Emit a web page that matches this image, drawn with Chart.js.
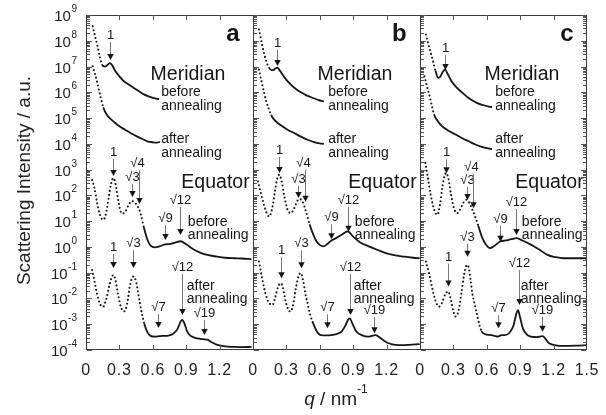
<!DOCTYPE html>
<html><head><meta charset="utf-8">
<script src="https://cdn.jsdelivr.net/npm/chart.js@4"></script>
<style>html,body{margin:0;padding:0;background:#fff}canvas{display:block}</style>
</head><body>
<canvas id="c" width="606" height="415"></canvas>
<script>
// ---- tick labels / categories ----
const panelLetters = ['a', 'b', 'c'];
const xTickValues = [0, 0.3, 0.6, 0.9, 1.2];
const xTickLabels = ['0', '0.3', '0.6', '0.9', '1.2'];
const xLastTickLabel = '1.5';
const yExponents = [-4, -3, -2, -1, 0, 1, 2, 3, 4, 5, 6, 7, 8, 9];
const PANEL_SPAN = 1.5;

// ---- series values: [q (nm^-1), log10(intensity)] ----
const aMerBefore = [[0.06,8.56],[0.08,8.2],[0.1,7.85],[0.126,7.34],[0.145,7.06],[0.17,7.0],[0.19,7.05],[0.215,7.13],[0.235,7.05],[0.26,6.85],[0.3,6.62],[0.34,6.43],[0.39,6.28],[0.43,6.17],[0.48,6.03],[0.52,5.92],[0.57,5.83],[0.61,5.77],[0.65,5.74]];
const aMerAfter = [[0.06,7.01],[0.08,6.72],[0.1,6.4],[0.126,5.91],[0.157,5.39],[0.187,5.13],[0.22,4.97],[0.26,4.82],[0.3,4.68],[0.35,4.55],[0.4,4.42],[0.457,4.29],[0.5,4.2],[0.55,4.1],[0.6,4.06],[0.64,4.05],[0.66,4.07]];
const aEqBefore = [[0.055,2.6],[0.075,2.3],[0.1,1.7],[0.125,1.25],[0.155,1.05],[0.18,1.3],[0.205,1.95],[0.225,2.45],[0.245,2.67],[0.265,2.45],[0.29,1.8],[0.32,1.3],[0.35,1.35],[0.38,1.6],[0.41,1.78],[0.43,1.75],[0.46,1.6],[0.49,1.3],[0.52,0.75],[0.55,0.3],[0.58,0.05],[0.62,-0.02],[0.66,0.02],[0.71,0.1],[0.76,0.12],[0.8,0.17],[0.85,0.22],[0.9,0.1],[0.96,-0.08],[1.03,-0.23],[1.1,-0.32],[1.18,-0.38],[1.25,-0.42],[1.33,-0.44],[1.4,-0.45],[1.48,-0.47]];
const aEqAfter = [[0.055,-0.9],[0.075,-1.3],[0.1,-1.85],[0.13,-2.25],[0.155,-2.32],[0.18,-2.05],[0.21,-1.5],[0.23,-1.2],[0.246,-1.09],[0.265,-1.3],[0.29,-1.9],[0.315,-2.35],[0.343,-2.5],[0.37,-2.2],[0.395,-1.5],[0.425,-1.15],[0.45,-1.35],[0.475,-1.95],[0.5,-2.55],[0.525,-3.0],[0.55,-3.3],[0.58,-3.45],[0.62,-3.48],[0.66,-3.46],[0.7,-3.45],[0.74,-3.44],[0.78,-3.38],[0.82,-3.2],[0.85,-2.9],[0.865,-2.83],[0.885,-2.98],[0.91,-3.3],[0.95,-3.48],[1.0,-3.55],[1.05,-3.58],[1.09,-3.6],[1.13,-3.7],[1.18,-3.8],[1.25,-3.86],[1.33,-3.88],[1.4,-3.89],[1.48,-3.88]];

const bMerBefore = [[0.053,8.44],[0.07,8.1],[0.084,7.79],[0.1,7.5],[0.114,7.27],[0.13,7.07],[0.144,6.95],[0.165,6.86],[0.18,6.86],[0.2,6.92],[0.218,6.96],[0.24,6.85],[0.265,6.69],[0.3,6.48],[0.34,6.3],[0.385,6.13],[0.43,6.0],[0.48,5.88],[0.54,5.78],[0.59,5.7],[0.63,5.65]];
const bMerAfter = [[0.053,6.88],[0.075,6.45],[0.1,5.98],[0.122,5.6],[0.144,5.33],[0.165,5.1],[0.19,4.94],[0.225,4.8],[0.265,4.68],[0.31,4.55],[0.37,4.42],[0.43,4.28],[0.49,4.16],[0.55,4.07],[0.6,4.02],[0.63,4.0]];
const bEqBefore = [[0.044,2.54],[0.07,2.1],[0.1,1.6],[0.125,1.3],[0.144,1.18],[0.17,1.45],[0.195,2.1],[0.215,2.6],[0.235,2.8],[0.255,2.6],[0.28,2.0],[0.31,1.45],[0.34,1.31],[0.37,1.5],[0.4,1.8],[0.42,1.86],[0.445,1.75],[0.477,1.35],[0.51,0.85],[0.54,0.5],[0.57,0.22],[0.6,0.08],[0.63,0.02],[0.67,0.12],[0.705,0.25],[0.75,0.35],[0.8,0.48],[0.85,0.6],[0.9,0.4],[0.96,0.18],[1.04,0.02],[1.12,-0.12],[1.2,-0.25],[1.28,-0.33],[1.36,-0.38],[1.44,-0.42],[1.49,-0.44]];
const bEqAfter = [[0.053,-0.57],[0.075,-1.05],[0.1,-1.6],[0.13,-2.05],[0.155,-2.22],[0.175,-2.25],[0.2,-1.95],[0.225,-1.55],[0.25,-1.41],[0.27,-1.6],[0.295,-2.15],[0.32,-2.45],[0.335,-2.51],[0.36,-2.25],[0.385,-1.6],[0.41,-1.12],[0.43,-1.02],[0.45,-1.3],[0.47,-1.8],[0.49,-2.19],[0.515,-2.65],[0.54,-2.96],[0.57,-3.25],[0.61,-3.42],[0.66,-3.43],[0.7,-3.42],[0.75,-3.38],[0.795,-3.29],[0.83,-3.05],[0.855,-2.82],[0.87,-2.77],[0.89,-2.95],[0.93,-3.29],[0.98,-3.43],[1.04,-3.48],[1.1,-3.42],[1.15,-3.55],[1.19,-3.68],[1.25,-3.78],[1.31,-3.81],[1.4,-3.8],[1.49,-3.77]];

const cMerBefore = [[0.053,8.24],[0.075,7.88],[0.097,7.53],[0.12,7.15],[0.14,6.82],[0.165,6.56],[0.185,6.62],[0.205,6.8],[0.225,6.88],[0.25,6.7],[0.275,6.49],[0.31,6.28],[0.35,6.1],[0.39,5.95],[0.437,5.78],[0.48,5.66],[0.52,5.57],[0.57,5.5],[0.61,5.45],[0.64,5.43]];
const cMerAfter = [[0.04,6.62],[0.06,6.27],[0.083,5.91],[0.105,5.5],[0.127,5.13],[0.16,4.88],[0.2,4.68],[0.26,4.5],[0.32,4.36],[0.38,4.22],[0.437,4.1],[0.49,3.99],[0.54,3.9],[0.59,3.84],[0.64,3.8]];
const cEqBefore = [[0.048,3.26],[0.07,2.7],[0.095,2.05],[0.12,1.55],[0.14,1.3],[0.157,1.25],[0.18,1.65],[0.2,2.3],[0.22,2.75],[0.236,2.87],[0.255,2.65],[0.28,2.0],[0.305,1.5],[0.334,1.31],[0.36,1.45],[0.39,1.72],[0.42,1.83],[0.445,1.7],[0.47,1.45],[0.495,1.18],[0.525,0.8],[0.555,0.4],[0.59,0.1],[0.63,-0.05],[0.67,0.05],[0.72,0.21],[0.77,0.25],[0.82,0.3],[0.865,0.34],[0.92,0.25],[1.0,0.08],[1.07,-0.1],[1.145,-0.31],[1.22,-0.4],[1.29,-0.44],[1.38,-0.44],[1.5,-0.44]];
const cEqAfter = [[0.053,-0.57],[0.08,-1.0],[0.11,-1.6],[0.14,-2.1],[0.17,-2.32],[0.2,-2.15],[0.225,-1.85],[0.254,-1.73],[0.275,-2.0],[0.3,-2.5],[0.32,-2.7],[0.345,-2.5],[0.37,-1.85],[0.395,-1.1],[0.41,-0.8],[0.425,-0.7],[0.44,-0.85],[0.455,-1.3],[0.47,-1.8],[0.495,-2.3],[0.517,-2.71],[0.535,-3.05],[0.555,-3.29],[0.6,-3.4],[0.643,-3.42],[0.67,-3.45],[0.7,-3.48],[0.73,-3.42],[0.76,-3.42],[0.8,-3.35],[0.84,-3.05],[0.865,-2.6],[0.88,-2.45],[0.9,-2.75],[0.924,-3.16],[0.96,-3.4],[0.997,-3.48],[1.05,-3.5],[1.1,-3.46],[1.16,-3.74],[1.22,-3.82],[1.29,-3.84],[1.4,-3.83],[1.5,-3.81]];

// ---- annotations (data coordinates: q, log10 I) ----
const arrowsA = [
  {q:0.216,tip:7.25,len:12,t:'1'},{q:0.243,tip:2.75,len:11,t:'1'},{q:0.41,tip:1.94,len:7,t:'√3'},
  {q:0.48,tip:1.667,len:28,t:'√4',dx:-2},{q:0.71,tip:0.27,len:9,t:'√9'},{q:0.847,tip:0.463,len:22,t:'√12'},
  {q:0.246,tip:-0.82,len:8,t:'1'},{q:0.426,tip:-0.82,len:12,t:'√3'},{q:0.862,tip:-2.64,len:35,t:'√12'},
  {q:0.646,tip:-3.15,len:8,t:'√7'},{q:1.063,tip:-3.42,len:9,t:'√19'}];
const arrowsB = [
  {q:0.214,tip:7.02,len:10,t:'1'},{q:0.235,tip:2.87,len:10,t:'1'},{q:0.407,tip:1.9,len:6,t:'√3'},
  {q:0.468,tip:1.755,len:26,t:'√4',dx:-2},{q:0.705,tip:0.3,len:9,t:'√9'},{q:0.85,tip:0.59,len:19,t:'√12'},
  {q:0.25,tip:-1.22,len:15,t:'1'},{q:0.432,tip:-0.83,len:12,t:'√3'},{q:0.871,tip:-2.64,len:35,t:'√12'},
  {q:0.665,tip:-3.16,len:8,t:'√7'},{q:1.09,tip:-3.35,len:10,t:'√19'}];
const arrowsC = [
  {q:0.225,tip:6.87,len:9,t:'1'},{q:0.236,tip:2.86,len:8,t:'1'},{q:0.42,tip:1.82,len:7,t:'√3'},
  {q:0.48,tip:1.5,len:28,t:'√4',dx:-2},{q:0.72,tip:0.2,len:10,t:'√9'},{q:0.865,tip:0.463,len:20,t:'√12'},
  {q:0.255,tip:-1.54,len:17,t:'1'},{q:0.42,tip:-0.38,len:7,t:'√3'},{q:0.885,tip:-2.25,len:29,t:'√12'},
  {q:0.7,tip:-3.16,len:7,t:'√7'},{q:1.1,tip:-3.29,len:9,t:'√19'}];
const panelArrows = [arrowsA, arrowsB, arrowsC];

const textLabels = [
  {q:1.38, v:8.0, t:null, kind:'letter'},
  {q:0.58, v:6.48, t:'Meridian', kind:'big'},
  {q:0.675, v:5.85, t:'before', kind:'small'},
  {q:0.675, v:5.33, t:'annealing', kind:'small'},
  {q:0.675, v:4.02, t:'after', kind:'small'},
  {q:0.675, v:3.50, t:'annealing', kind:'small'},
  {q:1.47, v:2.29, t:'Equator', kind:'big', align:'right'},
  {q:0.915, v:0.82, t:'before', kind:'small'},
  {q:0.915, v:0.32, t:'annealing', kind:'small'},
  {q:0.905, v:-1.67, t:'after', kind:'small'},
  {q:0.905, v:-2.18, t:'annealing', kind:'small'}
];

const curves = [
  {p:0, d:aMerBefore, dot:0.16},{p:0, d:aMerAfter, dot:0.18},{p:0, d:aEqBefore, dot:0.53},{p:0, d:aEqAfter, dot:0.54},
  {p:1, d:bMerBefore, dot:0.16},{p:1, d:bMerAfter, dot:0.17},{p:1, d:bEqBefore, dot:0.53},{p:1, d:bEqAfter, dot:0.55},
  {p:2, d:cMerBefore, dot:0.16},{p:2, d:cMerAfter, dot:0.15},{p:2, d:cEqBefore, dot:0.55},{p:2, d:cEqAfter, dot:0.56}
];

const FONT = '"Liberation Sans", Arial, Helvetica, sans-serif';
const INK = '#151515';

const datasets = curves.map(c => ({
  data: c.d.map(([q, v]) => ({x: q + PANEL_SPAN * c.p, y: Math.pow(10, v)})),
  borderColor: INK,
  borderWidth: 1.8,
  borderCapStyle: 'round',
  borderJoinStyle: 'round',
  pointRadius: 0,
  fill: false,
  cubicInterpolationMode: 'monotone',
  segment: {
    borderDash: s => (s.p1.parsed.x - PANEL_SPAN * c.p) <= c.dot ? [0, 4] : undefined,
    borderWidth: s => (s.p1.parsed.x - PANEL_SPAN * c.p) <= c.dot ? 2.1 : 1.8
  }
}));

const decor = {
  id: 'decor',
  afterDatasetsDraw(chart) {
    const ctx = chart.ctx, xs = chart.scales.x, ys = chart.scales.y, a = chart.chartArea;
    const X = (p, q) => xs.getPixelForValue(q + PANEL_SPAN * p);
    const Y = v => ys.getPixelForValue(Math.pow(10, v));
    ctx.save();
    // frame and separators
    ctx.strokeStyle = '#3a3a3a'; ctx.lineWidth = 1;
    ctx.strokeRect(a.left + 0.5, a.top + 0.5, a.right - a.left - 1, a.bottom - a.top - 1);
    for (let p = 1; p < 3; p++) {
      const x = Math.round(X(p, 0)) + 0.5;
      ctx.beginPath(); ctx.moveTo(x, a.top); ctx.lineTo(x, a.bottom); ctx.stroke();
    }
    // y ticks (inside)
    ctx.strokeStyle = '#555';
    const yTick = (x, dir) => {
      yExponents.forEach((e, i) => {
        const y = Math.round(Y(e)) + 0.5;
        ctx.beginPath(); ctx.moveTo(x, y); ctx.lineTo(x + dir * 5, y); ctx.stroke();
        if (i < yExponents.length - 1) {
          for (let m = 2; m <= 9; m++) {
            const ym = Math.round(Y(e + Math.log10(m))) + 0.5;
            ctx.beginPath(); ctx.moveTo(x, ym); ctx.lineTo(x + dir * 3, ym); ctx.stroke();
          }
        }
      });
    };
    for (let p = 0; p < 3; p++) yTick(Math.round(X(p, 0)) + 1, 1);
    yTick(Math.round(a.right) - 1, -1);
    // x ticks (inside top & bottom)
    for (let p = 0; p < 3; p++) {
      xTickValues.forEach(q => {
        if (q === 0) return;
        const x = Math.round(X(p, q)) + 0.5;
        ctx.beginPath(); ctx.moveTo(x, a.top); ctx.lineTo(x, a.top + 5); ctx.stroke();
        ctx.beginPath(); ctx.moveTo(x, a.bottom); ctx.lineTo(x, a.bottom - 5); ctx.stroke();
      });
    }
    // x tick labels
    ctx.fillStyle = '#222';
    ctx.font = '16px ' + FONT;
    ctx.textAlign = 'center'; ctx.textBaseline = 'alphabetic';
    try { ctx.letterSpacing = '0.8px'; } catch (e) {}
    for (let p = 0; p < 3; p++) {
      xTickValues.forEach((q, i) => ctx.fillText(xTickLabels[i], X(p, q), a.bottom + 25));
    }
    ctx.fillText(xLastTickLabel, X(2, 1.5), a.bottom + 25);
    try { ctx.letterSpacing = '0px'; } catch (e) {}
    // y tick labels 10^n
    yExponents.forEach(e => {
      const y = Y(e) + 6;
      const ex = String(e);
      ctx.font = '10px ' + FONT;
      const wExp = ctx.measureText(ex).width;
      const right = a.left - 9;
      ctx.textAlign = 'left';
      ctx.fillText(ex, right - wExp, y - 9);
      ctx.font = '15px ' + FONT;
      ctx.textAlign = 'right';
      ctx.fillText('10', right - wExp - 0.5, y);
    });
    // axis titles
    ctx.fillStyle = '#222';
    ctx.save();
    ctx.translate(29.5, (a.top + a.bottom) / 2 - 2);
    ctx.rotate(-Math.PI / 2);
    ctx.textAlign = 'center';
    ctx.font = '19px ' + FONT;
    ctx.fillText('Scattering Intensity / a.u.', 0, 0);
    ctx.restore();
    // x title: q / nm^-1
    {
      const parts = [['italic 19px ' + FONT, 'q', 0], ['19px ' + FONT, ' / nm', 0], ['12px ' + FONT, '-1', -12]];
      let w = 0;
      parts.forEach(pt => { ctx.font = pt[0]; w += ctx.measureText(pt[1]).width; });
      let x = 336 - w / 2;
      ctx.textAlign = 'left';
      parts.forEach(pt => { ctx.font = pt[0]; ctx.fillText(pt[1], x, 405 + pt[2]); x += ctx.measureText(pt[1]).width; });
    }
    // panel texts
    ctx.fillStyle = INK;
    for (let p = 0; p < 3; p++) {
      textLabels.forEach(l => {
        const x = X(p, l.q), y = Y(l.v);
        if (l.kind === 'letter') { ctx.font = 'bold 24px ' + FONT; ctx.textAlign = 'right'; ctx.fillText(panelLetters[p], x, y); return; }
        ctx.font = (l.kind === 'big' ? '19.5px ' : '14px ') + FONT;
        ctx.textAlign = l.align || 'left';
        ctx.fillText(l.t, x, y);
      });
      // arrows
      panelArrows[p].forEach(ar => {
        const x = Math.round(X(p, ar.q)) + 0.5, yt = Y(ar.tip);
        const head = 6, hw = 3.2;
        ctx.strokeStyle = '#777'; ctx.lineWidth = 1;
        ctx.beginPath(); ctx.moveTo(x, yt - head - ar.len); ctx.lineTo(x, yt - head + 1); ctx.stroke();
        ctx.fillStyle = INK;
        ctx.beginPath(); ctx.moveTo(x - hw, yt - head); ctx.lineTo(x + hw, yt - head); ctx.lineTo(x, yt); ctx.closePath(); ctx.fill();
        ctx.font = '13px ' + FONT; ctx.textAlign = 'center';
        ctx.fillText(ar.t, x + (ar.dx || 0), yt - head - ar.len - 3);
      });
    }
    ctx.restore();
  }
};

new Chart(document.getElementById('c'), {
  type: 'line',
  data: { datasets },
  options: {
    responsive: false, animation: false, devicePixelRatio: 1,
    layout: { padding: { left: 86, top: 15, right: 19, bottom: 65 } },
    scales: {
      x: { type: 'linear', min: 0, max: 4.5, display: false },
      y: { type: 'logarithmic', min: 1e-4, max: 1e9, display: false }
    },
    plugins: { legend: { display: false }, tooltip: { enabled: false } },
    elements: { point: { radius: 0 } }
  },
  plugins: [decor]
});
</script></body></html>
